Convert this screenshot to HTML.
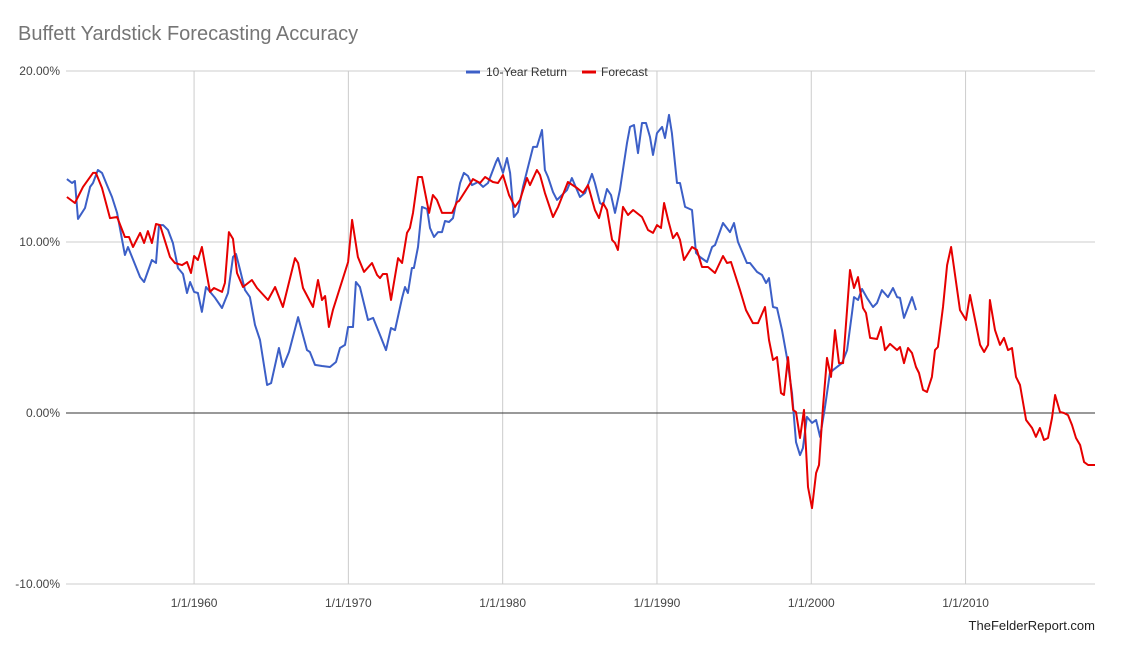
<!DOCTYPE html>
<html><head><meta charset="utf-8"><style>
body{margin:0;background:#fff;}
svg{display:block;font-family:"Liberation Sans",Arial,sans-serif;}
</style></head><body>
<svg id="chart" width="1122" height="657" viewBox="0 0 1122 657">
<rect width="1122" height="657" fill="#fff"/>
<text x="18" y="40" font-size="20" fill="#757575">Buffett Yardstick Forecasting Accuracy</text>
<g id="grid"></g>
<g id="series"></g>
<g>
 <g><line x1="466" y1="72" x2="480" y2="72" stroke="#3c5fc7" stroke-width="3"/><text x="486" y="76" font-size="12" fill="#333">10-Year Return</text></g>
 <g><line x1="582" y1="72" x2="596" y2="72" stroke="#e60000" stroke-width="3"/><text x="601" y="76" font-size="12" fill="#333">Forecast</text></g>
</g>
<text x="1095" y="630" font-size="13" fill="#222" text-anchor="end">TheFelderReport.com</text>
</svg>
<script>
const yTicks=[20,10,0,-10];
const yTickLabels=["20.00%","10.00%","0.00%","-10.00%"];
const xTicks=[1960,1970,1980,1990,2000,2010];
const xTickLabels=["1/1/1960","1/1/1970","1/1/1980","1/1/1990","1/1/2000","1/1/2010"];
const retYears=[1951.76,1952.09,1952.28,1952.48,1952.93,1953.26,1953.45,1953.77,1954.03,1954.36,1954.68,1955.01,1955.52,1955.72,1956.50,1956.76,1957.27,1957.53,1957.73,1957.99,1958.31,1958.63,1958.96,1959.28,1959.54,1959.74,1960.00,1960.25,1960.51,1960.77,1961.36,1961.81,1962.20,1962.52,1962.72,1962.98,1963.30,1963.62,1963.95,1964.27,1964.73,1964.99,1965.50,1965.76,1966.15,1966.74,1967.32,1967.51,1967.84,1968.29,1968.81,1969.20,1969.46,1969.78,1969.98,1970.30,1970.49,1970.75,1971.27,1971.60,1972.05,1972.44,1972.76,1973.02,1973.48,1973.67,1973.86,1974.12,1974.25,1974.51,1974.77,1975.10,1975.29,1975.55,1975.81,1976.07,1976.26,1976.52,1976.78,1977.24,1977.49,1977.75,1978.01,1978.40,1978.73,1979.05,1979.57,1979.70,1980.02,1980.28,1980.48,1980.73,1980.99,1981.32,1981.97,1982.22,1982.55,1982.74,1982.94,1983.26,1983.52,1984.17,1984.49,1985.01,1985.34,1985.79,1985.98,1986.31,1986.50,1986.76,1987.02,1987.28,1987.60,1988.06,1988.25,1988.51,1988.77,1989.03,1989.29,1989.55,1989.74,1990.00,1990.33,1990.52,1990.78,1990.97,1991.30,1991.49,1991.82,1992.27,1992.53,1992.79,1993.24,1993.57,1993.76,1994.28,1994.73,1994.99,1995.25,1995.83,1996.03,1996.48,1996.81,1997.07,1997.26,1997.52,1997.78,1998.10,1998.43,1998.75,1999.01,1999.27,1999.46,1999.72,2000.05,2000.31,2000.57,2000.89,2001.21,2001.41,2001.99,2002.32,2002.64,2002.77,2003.03,2003.29,2003.61,2004.00,2004.26,2004.58,2004.97,2005.30,2005.56,2005.75,2006.01,2006.53,2006.79];
const retValues=[13.68,13.45,13.57,11.35,11.99,13.22,13.45,14.21,14.04,13.33,12.63,11.70,9.24,9.71,7.95,7.66,8.95,8.77,10.99,10.99,10.70,9.94,8.48,8.13,7.02,7.66,7.08,7.02,5.91,7.37,6.73,6.14,7.02,9.12,9.30,8.36,7.19,6.78,5.15,4.27,1.64,1.75,3.80,2.69,3.57,5.61,3.68,3.57,2.81,2.75,2.69,2.98,3.80,3.98,5.03,5.03,7.66,7.37,5.44,5.56,4.56,3.68,4.97,4.85,6.73,7.37,7.02,8.48,8.48,9.71,12.05,11.93,10.82,10.29,10.58,10.58,11.23,11.17,11.40,13.45,14.04,13.86,13.33,13.51,13.22,13.45,14.68,14.91,14.04,14.91,14.04,11.46,11.75,13.22,15.56,15.56,16.55,14.21,13.80,12.92,12.46,13.04,13.74,12.63,12.87,13.98,13.45,12.28,12.16,13.10,12.75,11.70,13.04,15.79,16.73,16.84,15.20,16.96,16.96,16.14,15.09,16.37,16.73,16.08,17.43,16.37,13.45,13.45,12.05,11.87,9.36,9.12,8.83,9.71,9.82,11.11,10.58,11.11,10.00,8.77,8.77,8.25,8.07,7.60,7.89,6.20,6.14,4.85,3.22,1.17,-1.70,-2.46,-2.05,-0.23,-0.58,-0.41,-1.40,0.35,2.34,2.51,2.92,3.68,5.85,6.78,6.61,7.25,6.73,6.20,6.43,7.19,6.78,7.31,6.78,6.73,5.56,6.78,6.02];
const fcYears=[1951.76,1952.28,1952.80,1953.45,1953.64,1954.03,1954.55,1955.01,1955.52,1955.78,1956.04,1956.50,1956.76,1957.01,1957.27,1957.53,1957.79,1958.44,1958.76,1959.22,1959.54,1959.80,1960.00,1960.25,1960.51,1961.03,1961.29,1961.81,1962.00,1962.26,1962.52,1962.78,1963.17,1963.75,1964.08,1964.79,1965.25,1965.76,1966.54,1966.74,1967.06,1967.71,1968.03,1968.29,1968.49,1968.74,1969.00,1969.98,1970.24,1970.62,1971.01,1971.53,1971.86,1972.05,1972.24,1972.50,1972.76,1973.22,1973.48,1973.80,1973.99,1974.19,1974.51,1974.77,1975.23,1975.48,1975.74,1976.07,1976.72,1977.04,1977.17,1978.08,1978.53,1978.86,1979.37,1979.70,1980.02,1980.41,1980.80,1981.12,1981.58,1981.77,1982.22,1982.42,1982.74,1983.26,1983.59,1984.23,1984.82,1985.21,1985.53,1985.98,1986.24,1986.50,1986.76,1987.09,1987.28,1987.47,1987.80,1988.12,1988.45,1989.03,1989.42,1989.74,1990.00,1990.26,1990.46,1990.72,1991.04,1991.30,1991.49,1991.75,1992.27,1992.59,1992.92,1993.31,1993.76,1994.28,1994.54,1994.80,1995.38,1995.77,1996.22,1996.55,1997.00,1997.26,1997.52,1997.78,1998.04,1998.23,1998.49,1998.82,1999.01,1999.27,1999.53,1999.79,2000.05,2000.31,2000.50,2000.76,2001.02,2001.28,2001.54,2001.80,2002.06,2002.51,2002.77,2003.03,2003.35,2003.55,2003.81,2004.26,2004.52,2004.78,2005.10,2005.56,2005.75,2006.01,2006.27,2006.53,2006.79,2006.98,2007.24,2007.50,2007.82,2008.02,2008.21,2008.54,2008.80,2009.06,2009.64,2010.03,2010.29,2010.68,2010.94,2011.20,2011.46,2011.58,2011.91,2012.23,2012.49,2012.75,2013.01,2013.27,2013.53,2013.92,2014.31,2014.56,2014.82,2015.08,2015.34,2015.60,2015.80,2016.12,2016.38,2016.64,2016.90,2017.16,2017.42,2017.68,2017.94,2018.39];
const fcValues=[12.63,12.28,13.22,14.04,14.04,13.16,11.40,11.46,10.29,10.29,9.71,10.53,9.94,10.64,9.94,11.05,10.99,9.12,8.77,8.65,8.83,8.19,9.18,8.95,9.71,7.08,7.31,7.08,7.60,10.58,10.18,8.19,7.37,7.78,7.31,6.61,7.37,6.20,9.06,8.77,7.31,6.20,7.78,6.61,6.84,5.03,6.02,8.83,11.29,9.12,8.25,8.77,8.07,7.89,8.13,8.13,6.61,9.06,8.77,10.53,10.82,11.70,13.80,13.80,11.70,12.75,12.46,11.70,11.70,12.34,12.40,13.68,13.45,13.80,13.51,13.45,13.92,12.75,12.05,12.46,13.74,13.33,14.21,13.92,12.87,11.46,12.05,13.51,13.16,12.87,13.33,11.87,11.40,12.28,11.87,10.12,9.94,9.53,12.05,11.58,11.87,11.46,10.70,10.53,10.99,10.82,12.28,11.29,10.23,10.53,10.12,8.95,9.71,9.53,8.54,8.54,8.19,9.18,8.77,8.83,7.19,6.02,5.26,5.26,6.20,4.27,3.10,3.27,1.17,1.05,3.27,0.18,0.06,-1.46,0.18,-4.33,-5.56,-3.51,-3.04,0.35,3.22,2.11,4.85,2.92,2.92,8.36,7.31,7.95,6.14,5.85,4.39,4.33,5.03,3.68,4.04,3.68,3.86,2.92,3.80,3.51,2.69,2.34,1.35,1.23,2.11,3.68,3.86,6.20,8.65,9.71,6.02,5.44,6.90,5.15,3.98,3.57,3.98,6.61,4.85,3.98,4.39,3.68,3.80,2.11,1.64,-0.41,-0.88,-1.40,-0.88,-1.58,-1.46,-0.29,1.05,0.06,0.00,-0.12,-0.70,-1.46,-1.87,-2.87,-3.04,-3.04];

const NS="http://www.w3.org/2000/svg";
const X0=66,X1=1095,Y20=71,Y0=413;
const yearMin=1951.7,yearPx=15.43,pctPx=17.1;
function xs(yr){return X0+(yr-yearMin)*yearPx;}
function ys(v){return Y0-v*pctPx;}
const grid=document.getElementById('grid');
yTicks.forEach((t,i)=>{
  const l=document.createElementNS(NS,'line');
  l.setAttribute('x1',X0);l.setAttribute('x2',X1);
  l.setAttribute('y1',ys(t));l.setAttribute('y2',ys(t));
  l.setAttribute('stroke',t===0?'#333':'#cccccc');l.setAttribute('stroke-width','1');
  
  
  grid.appendChild(l);
  const tx=document.createElementNS(NS,'text');
  tx.setAttribute('x',60);tx.setAttribute('y',ys(t)+4);tx.setAttribute('text-anchor','end');
  tx.setAttribute('font-size','12');tx.setAttribute('fill','#444');
  tx.textContent=yTickLabels[i];
  
  
  grid.appendChild(tx);
});
xTicks.forEach((t,i)=>{
  const l=document.createElementNS(NS,'line');
  l.setAttribute('x1',xs(t));l.setAttribute('x2',xs(t));
  l.setAttribute('y1',Y20);l.setAttribute('y2',584);
  l.setAttribute('stroke','#cccccc');l.setAttribute('stroke-width','1');
  
  
  grid.insertBefore(l,grid.firstChild);
  const tx=document.createElementNS(NS,'text');
  tx.setAttribute('x',xs(t));tx.setAttribute('y',607);tx.setAttribute('text-anchor','middle');
  tx.setAttribute('font-size','12');tx.setAttribute('fill','#444');
  tx.textContent=xTickLabels[i];
  
  
  grid.appendChild(tx);
});
const series=document.getElementById('series');
function drawLine(years,vals,color,name){
  const p=document.createElementNS(NS,'polyline');
  p.setAttribute('points',years.map((y,i)=>xs(y).toFixed(1)+','+ys(vals[i]).toFixed(1)).join(' '));
  p.setAttribute('fill','none');p.setAttribute('stroke',color);p.setAttribute('stroke-width','2');
  p.setAttribute('stroke-linejoin','round');
  
  
  series.appendChild(p);
}
drawLine(retYears,retValues,'#3c5fc7','ten-year-return-line');
drawLine(fcYears,fcValues,'#e60000','forecast-line');
</script>
</body></html>
